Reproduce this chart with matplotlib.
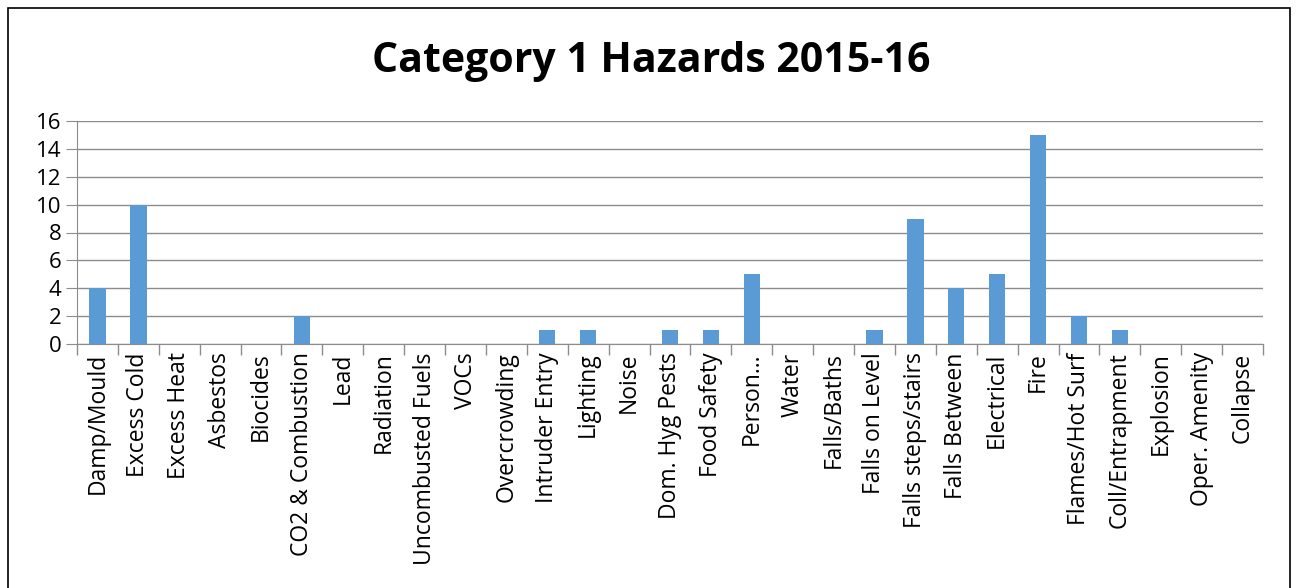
import numpy as np
from matplotlib import pyplot as plt
from matplotlib.patches import Rectangle

# Hazard categories and their counts
categories = ['Damp/Mould', 'Excess Cold', 'Excess Heat', 'Asbestos', 'Biocides',
              'CO2 & Combustion', 'Lead', 'Radiation', 'Uncombusted Fuels', 'VOCs',
              'Overcrowding', 'Intruder Entry', 'Lighting', 'Noise', 'Dom. Hyg Pests',
              'Food Safety', 'Person...', 'Water', 'Falls/Baths', 'Falls on Level',
              'Falls steps/stairs', 'Falls Between', 'Electrical', 'Fire',
              'Flames/Hot Surf', 'Coll/Entrapment', 'Explosion', 'Oper. Amenity', 'Collapse']
counts = [4, 10, 0, 0, 0, 2, 0, 0, 0, 0, 0, 1, 1, 0, 1, 1, 5, 0, 0, 1, 9, 4, 5, 15, 2, 1, 0, 0, 0]
y_ticks = [0, 2, 4, 6, 8, 10, 12, 14, 16]

plt.rcParams['font.family'] = ['Open Sans', 'DejaVu Sans']

fig = plt.figure(figsize=(12.98, 5.88), dpi=100)
ax = fig.add_axes([77/1298, 1 - 344/588, (1263 - 77)/1298, (344 - 121)/588])

x = np.arange(len(categories))
ax.bar(x, counts, width=0.4, color='#5B9BD5', zorder=3)

ax.set_xlim(-0.5, len(categories) - 0.5)
ax.set_ylim(0, 16)
ax.set_yticks(y_ticks)
ax.yaxis.grid(True, color='#8c8c8c', linewidth=1, zorder=0)
ax.tick_params(axis='y', length=8, color='#8c8c8c', labelsize=16, pad=3)

# Category labels at bar centres, tick marks at category boundaries
ax.set_xticks(x)
ax.set_xticklabels(categories, rotation=90, fontsize=16.5)
ax.tick_params(axis='x', which='major', length=0, pad=6)
ax.set_xticks(np.arange(-0.5, len(categories)), minor=True)
ax.tick_params(axis='x', which='minor', length=8, color='#8c8c8c', width=1)

for side in ['top', 'right']:
    ax.spines[side].set_visible(False)
ax.spines['left'].set_color('#8c8c8c')
ax.spines['bottom'].set_color('#8c8c8c')

fig.text(651/1298, 1 - 62/588, 'Category 1 Hazards 2015-16', ha='center', va='center',
         fontsize=29.5, fontweight='bold')

# outer chart border
fig.patches.append(Rectangle((8/1298, -0.05), (1290 - 8)/1298, 1 - 8/588 + 0.05,
                             transform=fig.transFigure, fill=False, edgecolor='black',
                             linewidth=1.2))

fig.savefig('out.png', dpi=100)
